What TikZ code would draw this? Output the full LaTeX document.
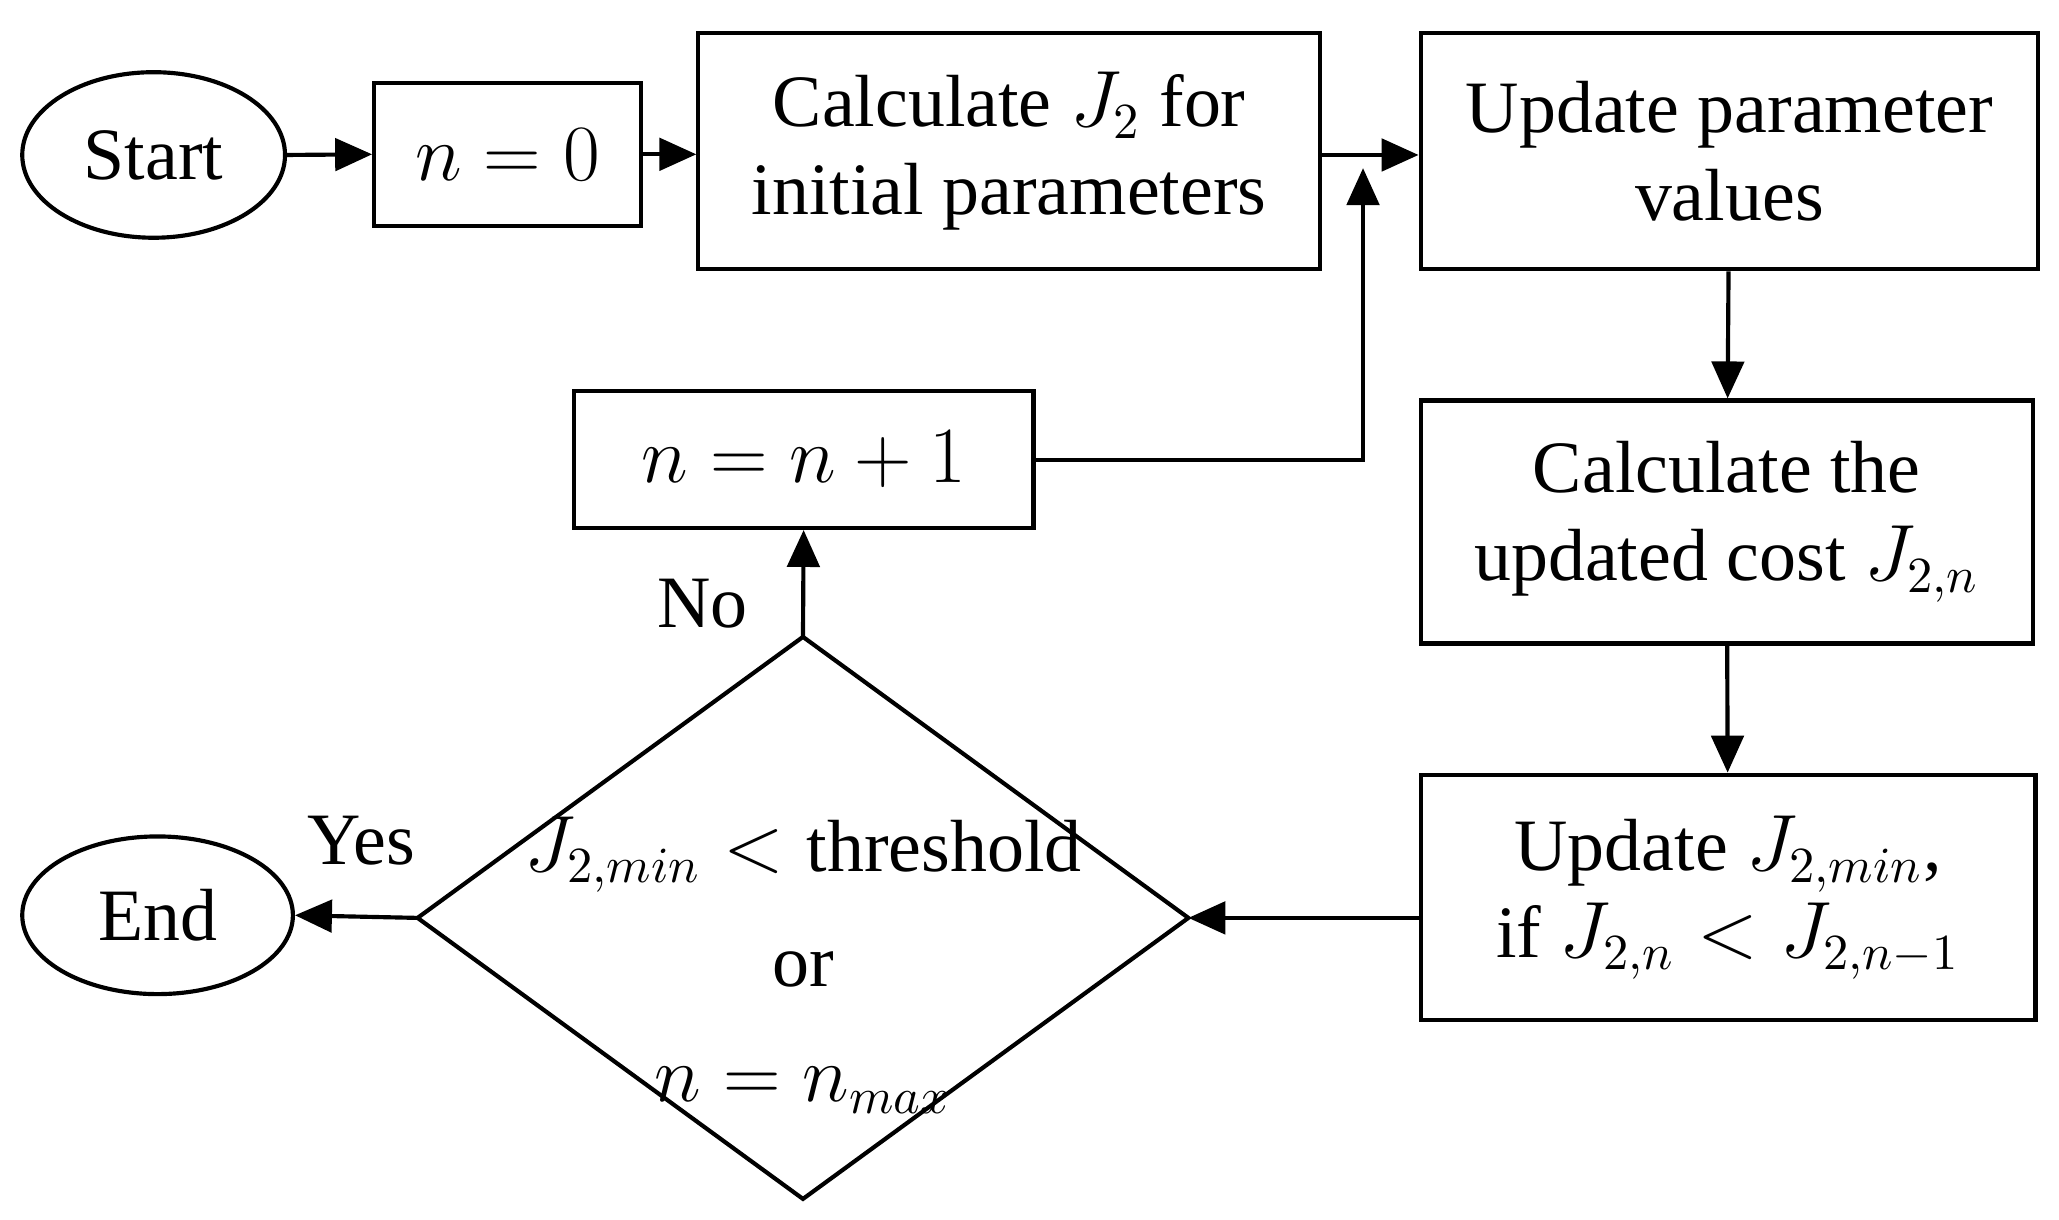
\documentclass[tikz,border=0pt]{standalone}
\usepackage{fontspec}
\setmainfont{Liberation Serif}
\usetikzlibrary{shapes.geometric,arrows.meta}
\begin{document}
\begin{tikzpicture}[x=0.01cm,y=-0.01cm,
  every node/.style={font=\fontsize{16}{19}\selectfont},
  box/.style={draw,line width=0.9pt,align=center,inner sep=0pt},
  ell/.style={draw,ellipse,line width=0.9pt,inner sep=0pt},
  arr/.style={line width=0.9pt,-{Triangle[length=8pt,width=7pt]}}]
\useasboundingbox (0,0) rectangle (1568,929);
\node[ell,minimum width=2cm,minimum height=1.26cm] (start) at (117,118) {Start};
\node[box,minimum width=2.03cm,minimum height=1.09cm] (n0) at (386.5,117.5) {$n=0$};
\node[box,minimum width=4.73cm,minimum height=1.8cm] (calc) at (768.5,115) {Calculate $J_2$ for\\initial parameters};
\node[box,minimum width=4.7cm,minimum height=1.8cm] (upd) at (1317,115) {Update parameter\\values};
\node[box,minimum width=4.66cm,minimum height=1.85cm] (cost) at (1315,397.5) {Calculate the\\updated cost $J_{2,n}$};
\node[box,minimum width=4.68cm,minimum height=1.87cm] (jmin) at (1316,683.5) {Update $J_{2,min}$,\\if $J_{2,n}<J_{2,n-1}$};
\coordinate (dw) at (318,699);
\coordinate (de) at (905,699);
\coordinate (dn) at (611.5,485);
\coordinate (ds) at (611.5,913);
\draw[line width=0.9pt] (dw) -- (dn) -- (de) -- (ds) -- cycle;
\node[align=center,font=\fontsize{16}{25}\selectfont] (dec) at (611.5,735) {$J_{2,min}<\mbox{threshold}$\\or\\$n=n_{max}$};
\node[ell,minimum width=2.06cm,minimum height=1.2cm] (end) at (120,697) {End};
\node[box,minimum width=3.5cm,minimum height=1.04cm] (inc) at (612,350) {$n=n+1$};
\coordinate (j) at (1038,118);
\draw[arr] (start.east) -- (n0.west);
\draw[arr] (n0.east) -- (n0.east -| calc.west);
\draw[arr] (calc.east |- j) -- (upd.west |- j);
\draw[arr] (upd) -- (cost);
\draw[arr] (cost) -- (jmin);
\draw[arr] (jmin.west |- de) -- (de);
\draw[arr] (dw) -- (end.east);
\draw[arr] (dn) -- (inc.south);
\draw[arr] (inc.east) -| ([yshift=-0.1cm]j);
\node at (275,640) {Yes};
\node at (535,460) {No};
\end{tikzpicture}
\end{document}
